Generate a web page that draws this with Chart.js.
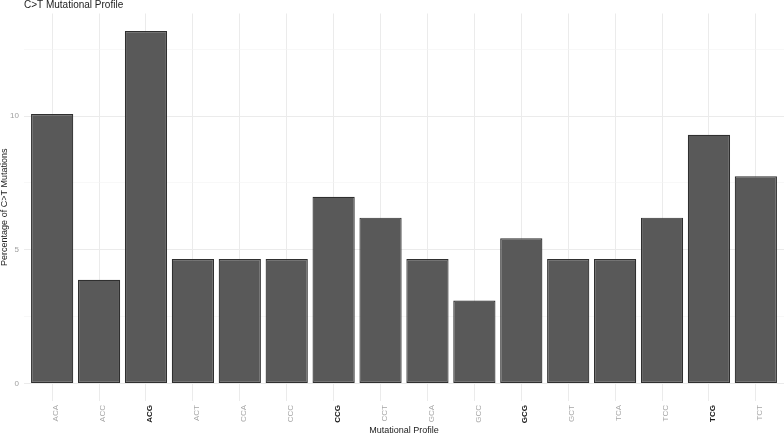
<!DOCTYPE html>
<html><head><meta charset="utf-8">
<script src="https://cdn.jsdelivr.net/npm/chart.js@4/dist/chart.umd.min.js"></script>
<style>html,body{margin:0;padding:0;background:#fff;}#wrap{width:784px;height:433px;position:relative;}</style>
</head><body><div id="wrap"><canvas id="c" width="784" height="433"></canvas></div>
<script>
const categories = ['ACA','ACC','ACG','ACT','CCA','CCC','CCG','CCT','GCA','GCC','GCG','GCT','TCA','TCC','TCG','TCT'];
const percentages = [10.08, 3.88, 13.18, 4.65, 4.65, 4.65, 6.98, 6.20, 4.65, 3.10, 5.43, 4.65, 4.65, 6.20, 9.30, 7.75];
const boldCategories = ['ACG','CCG','GCG','TCG'];
const yTickValues = [0, 2.5, 5, 7.5, 10, 12.5];
const yTickLabels = ['0', '', '5', '', '10', ''];
const titleText = 'C>T Mutational Profile';
const xTitle = 'Mutational Profile';
const yTitle = 'Percentage of C>T Mutations';

const FONT = '"Liberation Sans", Arial, sans-serif';
const yMaxData = Math.max(...percentages);
const yPad = yMaxData * 0.05;

const titlePlugin = {
  id: 'ggtitle',
  afterDraw(chart) {
    const ctx = chart.ctx;
    ctx.save();
    ctx.font = '10px ' + FONT;
    ctx.fillStyle = '#222';
    ctx.textBaseline = 'middle';
    ctx.textAlign = 'left';
    ctx.fillText(titleText, chart.chartArea.left, 5.5);
    ctx.restore();
  }
};

new Chart(document.getElementById('c'), {
  type: 'bar',
  data: {
    datasets: [{
      data: percentages.map((v, i) => ({x: i, y: v})),
      backgroundColor: '#595959',
      borderColor: '#2f2f2f',
      borderWidth: 1.2,
      borderSkipped: false,
      barPercentage: 0.9,
      categoryPercentage: 1.0
    }]
  },
  plugins: [titlePlugin],
  options: {
    responsive: false,
    animation: false,
    devicePixelRatio: 1,
    layout: {padding: {top: 13.5, left: 0, right: 0, bottom: 0}},
    plugins: {legend: {display: false}, tooltip: {enabled: false}, title: {display: false}},
    scales: {
      x: {
        type: 'linear',
        min: -0.6,
        max: categories.length - 1 + 0.6,
        offset: false,
        grid: {offset: false, color: '#ebebeb', lineWidth: 1, drawTicks: false},
        border: {display: false},
        afterBuildTicks(scale) { scale.ticks = categories.map((c, i) => ({value: i})); },
        afterFit(scale) { scale.height = 32; },
        ticks: {
          autoSkip: false,
          minRotation: 90,
          maxRotation: 90,
          padding: 4,
          labelOffset: 4,
          callback: (v) => categories[v] ?? '',
          color: (ctx) => boldCategories.includes(categories[ctx.tick && ctx.tick.value]) ? '#1a1a1a' : '#a6a6a6',
          font: (ctx) => ({family: FONT, size: 8, weight: boldCategories.includes(categories[ctx.tick && ctx.tick.value]) ? 'bold' : 'normal'})
        },
        title: {display: true, text: xTitle, color: '#222', font: {family: FONT, size: 9, lineHeight: 0.45}, padding: 0}
      },
      y: {
        min: -yPad,
        max: yMaxData + yPad,
        grid: {
          color: (ctx) => (ctx.tick && ctx.tick.value % 5 === 0) ? '#ebebeb' : '#f4f4f4',
          lineWidth: (ctx) => (ctx.tick && ctx.tick.value % 5 === 0) ? 1 : 0.6,
          drawTicks: false
        },
        border: {display: false},
        afterBuildTicks(scale) { scale.ticks = yTickValues.map(v => ({value: v})); },
        afterFit(scale) { scale.width = 24; },
        ticks: {
          padding: 5,
          color: '#a0a0a0',
          font: {family: FONT, size: 8},
          callback: (v, i) => yTickLabels[yTickValues.indexOf(v)] ?? ''
        },
        title: {display: true, text: yTitle, color: '#222', font: {family: FONT, size: 9, lineHeight: 0.9}, padding: 0}
      }
    }
  }
});
</script></body></html>
